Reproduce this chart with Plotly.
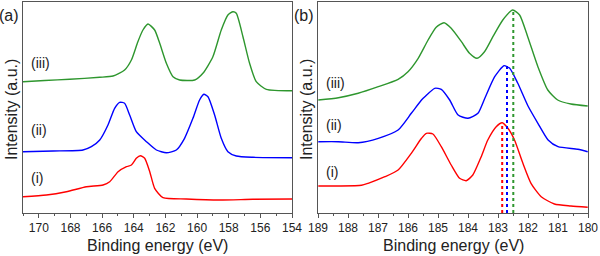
import plotly.graph_objects as go

# ---------------- Panel (a) data ----------------
a_iii_e = [171.0, 169.63, 168.05, 166.15, 165.31, 164.58, 164.15, 163.74, 163.42, 163.10, 162.68, 162.36,
           161.94, 161.52, 161.10, 160.15, 159.63, 159.0, 158.47, 158.05, 157.73, 157.52, 157.10, 156.68,
           156.26, 155.62, 154.0]
a_iii_i = [131.3, 132.5, 133.7, 135.7, 137, 143, 153, 171.3, 183, 189, 183, 169.7,
           149.7, 136.3, 133, 133, 139.7, 156.3, 183, 198, 201.3, 199.7, 176.3, 149.7,
           131.3, 123.7, 122.3]

a_ii_e = [171.0, 169.10, 167.21, 166.68, 166.15, 165.63, 165.21, 164.89, 164.58, 164.26, 163.84, 163.20,
          162.57, 161.94, 161.31, 160.79, 160.26, 159.84, 159.57, 159.31, 158.89, 158.47, 158.05, 157.52,
          156.47, 154.0]
a_ii_i = [61.3, 62, 63, 66.3, 73, 88, 104.7, 110.7, 109.7, 98, 81.3, 71.3,
          63, 60.3, 63, 74.7, 94.7, 113, 118.7, 116.3, 98, 74.7, 61.3, 57,
          55.7, 55.3]

a_i_e = [171.0, 169.52, 168.26, 166.99, 165.94, 165.52, 164.99, 164.46, 164.15, 163.84, 163.58, 163.31,
         162.99, 162.68, 162.15, 160.68, 158.57, 156.47, 154.0]
a_i_i = [16.3, 18, 21.3, 26.3, 28, 31.3, 41.3, 46.3, 48, 54.7, 57.3, 54.7,
         41.3, 24.7, 15.3, 14, 13, 13.7, 14]

# ---------------- Panel (b) data ----------------
b_iii_e = [188.99, 188.32, 187.66, 186.99, 186.33, 186.0, 185.66, 185.33, 185.06, 184.80, 184.56, 184.22,
           183.95, 183.70, 183.45, 183.17, 182.84, 182.51, 182.28, 182.01, 181.67, 181.34, 181.01, 180.57,
           180.01]
b_iii_i = [113, 115.3, 119.7, 126.3, 133.7, 141.3, 154.7, 173, 185.7, 190.3, 184.7, 171.3,
           159.7, 154.7, 161.3, 176.3, 193, 203, 198, 176.3, 146.3, 123, 113, 109,
           107]

b_ii_e = [188.99, 188.32, 187.66, 186.99, 186.33, 185.89, 185.55, 185.44, 185.11, 184.89, 184.61, 184.33,
          184.0, 183.67, 183.45, 183.11, 182.80, 182.61, 182.34, 182.0, 181.67, 181.33, 181.0, 180.34,
          180.01]
b_ii_i = [71.3, 71.3, 70.3, 74.7, 83, 99.7, 113, 116.3, 124.7, 123.7, 113, 98,
          94.7, 99.7, 114, 136.3, 147.3, 144.7, 129.7, 107, 89.7, 73, 66.3, 63.7,
          61.3]

b_i_e = [188.99, 188.32, 187.55, 187.33, 186.77, 186.33, 185.89, 185.55, 185.39, 185.17, 184.89, 184.56,
         184.28, 184.06, 183.84, 183.56, 183.34, 183.06, 182.86, 182.67, 182.45, 182.17, 181.90, 181.56,
         181.12, 180.57, 180.01]
b_i_i = [27, 27, 27.7, 29.7, 36.3, 43, 59.7, 74.7, 79.7, 79, 66.3, 48,
         34.7, 32.3, 38, 56.3, 73, 86.3, 90.3, 84.7, 73, 49.7, 29.7, 16.3,
         9, 7, 5.7]

# peak marker lines in panel (b): position and height
peak_e = [182.86, 182.70, 182.49]
peak_top = [90.3, 147.3, 203]

curve_labels = ["(i)", "(ii)", "(iii)"]
colors = ["#ff0000", "#0000ff", "#2e962e"]

FONT = "Liberation Sans, Arial, sans-serif"

fig = go.Figure()

a_sets = [(a_i_e, a_i_i), (a_ii_e, a_ii_i), (a_iii_e, a_iii_i)]
b_sets = [(b_i_e, b_i_i), (b_ii_e, b_ii_i), (b_iii_e, b_iii_i)]

for (e, i), c in zip(a_sets, colors):
    fig.add_trace(go.Scatter(x=e, y=i, mode="lines", line=dict(color=c, width=1.4, shape="spline", smoothing=0.6),
                             xaxis="x", yaxis="y", showlegend=False))
for (e, i), c in zip(b_sets, colors):
    fig.add_trace(go.Scatter(x=e, y=i, mode="lines", line=dict(color=c, width=1.4, shape="spline", smoothing=0.6),
                             xaxis="x2", yaxis="y2", showlegend=False))
for pe, pt, c in zip(peak_e, peak_top, colors):
    fig.add_trace(go.Scatter(x=[pe, pe], y=[0, pt], mode="lines", line=dict(color=c, width=2, dash="dot"),
                             xaxis="x2", yaxis="y2", showlegend=False))

axis_common = dict(showline=True, mirror=True, linecolor="#555555", linewidth=1, showgrid=False,
                   zeroline=False, ticks="outside", ticklen=4, tickcolor="#555555",
                   tickfont=dict(family=FONT, size=12, color="#222222"))
fig.update_layout(
    width=600, height=256, autosize=False,
    margin=dict(l=0, r=0, t=0, b=0, autoexpand=False),
    paper_bgcolor="white", plot_bgcolor="white",
    xaxis=dict(domain=[23 / 600, 292 / 600], range=[171, 154], dtick=2, tick0=154,
               minor=dict(dtick=1, ticks="outside", ticklen=2, tickcolor="#555555"), anchor="y", **axis_common),
    xaxis2=dict(domain=[318 / 600, 588 / 600], range=[189, 180], dtick=1, tick0=180,
                minor=dict(dtick=0.5, ticks="outside", ticklen=2, tickcolor="#555555"), anchor="y2", **axis_common),
    yaxis=dict(domain=[1 - 213 / 256, 1 - 2 / 256], range=[0, 211], showline=True, mirror=True,
               linecolor="#555555", showticklabels=False, ticks="", showgrid=False, zeroline=False, anchor="x"),
    yaxis2=dict(domain=[1 - 213 / 256, 1 - 2 / 256], range=[0, 211], showline=True, mirror=True,
                linecolor="#555555", showticklabels=False, ticks="", showgrid=False, zeroline=False, anchor="x2"),
)

ann = []
title_font = dict(family=FONT, size=16, color="#222222")
label_font = dict(family=FONT, size=14, color="#222222")
# x titles
for cx in [157.5, 453]:
    ann.append(dict(text="Binding energy (eV)", x=cx / 600, y=1 - 245 / 256, xref="paper", yref="paper",
                    showarrow=False, font=title_font, xanchor="center", yanchor="middle"))
# y titles
for cx in [11, 306]:
    ann.append(dict(text="Intensity (a.u.)", x=cx / 600, y=1 - 110 / 256, xref="paper", yref="paper",
                    showarrow=False, font=title_font, textangle=-90, xanchor="center", yanchor="middle"))
# panel letters
ann.append(dict(text="(a)", x=9 / 600, y=1 - 15 / 256, xref="paper", yref="paper", showarrow=False,
                font=title_font, xanchor="center", yanchor="middle"))
ann.append(dict(text="(b)", x=304 / 600, y=1 - 15 / 256, xref="paper", yref="paper", showarrow=False,
                font=title_font, xanchor="center", yanchor="middle"))
# curve labels
a_lab_pos = [(29, 178), (29, 130), (29, 63)]
b_lab_pos = [(324, 172), (324, 125), (324, 83)]
for t, (px, py) in zip(curve_labels, a_lab_pos):
    ann.append(dict(text=t, x=px / 600, y=1 - py / 256, xref="paper", yref="paper", showarrow=False,
                    font=label_font, xanchor="left", yanchor="middle"))
for t, (px, py) in zip(curve_labels, b_lab_pos):
    ann.append(dict(text=t, x=px / 600, y=1 - py / 256, xref="paper", yref="paper", showarrow=False,
                    font=label_font, xanchor="left", yanchor="middle"))
fig.update_layout(annotations=ann)

fig.write_html("out.html", config={"responsive": False, "displayModeBar": False},
               post_script="document.body.style.margin='0';document.body.style.padding='0';"
                           "document.body.style.overflow='hidden';")
